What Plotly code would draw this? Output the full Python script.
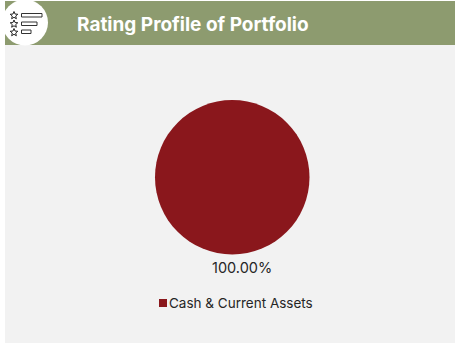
import math
import plotly.graph_objects as go

categories = ["Cash & Current Assets"]
values = [100.0]
colors = ["#8a171c"]
title = "Rating Profile of Portfolio"
W, H = 455, 343
INK = "#262626"
FONT = "Inter"

def px(x): return x / W
def py(y): return 1 - y / H

fig = go.Figure(go.Pie(
    labels=categories, values=values,
    marker=dict(colors=colors, line=dict(width=0)),
    textinfo="none",
    sort=False, hoverinfo="label+percent",
    domain=dict(x=[px(155), px(309.5)], y=[py(254.5), py(100)]),
    showlegend=False,
))

def star(cx, cy, r=4.0):
    pts = []
    for i in range(10):
        a = -math.pi / 2 + i * math.pi / 5
        rr = r if i % 2 == 0 else r * 0.45
        pts.append((px(cx + rr * math.cos(a)), py(cy + rr * math.sin(a))))
    return "M " + " L ".join(f"{x:.5f},{y:.5f}" for x, y in pts) + " Z"

shapes = [
    dict(type="rect", xref="paper", yref="paper", x0=px(5), x1=1, y0=0, y1=py(45),
         fillcolor="#f2f2f2", line_width=0, layer="below"),
    dict(type="rect", xref="paper", yref="paper", x0=px(5), x1=1, y0=py(45), y1=py(1),
         fillcolor="#8d9b6f", line_width=0, layer="below"),
    dict(type="circle", xref="paper", yref="paper", x0=px(2), x1=px(48), y0=py(45.5), y1=py(-0.5),
         fillcolor="#ffffff", line_width=0, layer="below"),
    # legend swatch
    dict(type="rect", xref="paper", yref="paper", x0=px(159), x1=px(167), y0=py(307), y1=py(299),
         fillcolor=colors[0], line_width=0),
]
for y0, y1, x1 in [(13.5, 17, 42), (22, 25.5, 37), (30, 33.5, 31)]:
    shapes.append(dict(type="rect", xref="paper", yref="paper", x0=px(21.5), x1=px(x1),
                       y0=py(y1), y1=py(y0), fillcolor="#ffffff",
                       line=dict(color="#333333", width=1)))
for y in [15.5, 24, 32.5]:
    shapes.append(dict(type="path", xref="paper", yref="paper", path=star(14, y),
                       fillcolor="#ffffff", line=dict(color="#222222", width=1)))

annotations = [
    dict(text=title, xref="paper", yref="paper", x=px(74.5), y=py(24), xanchor="left", yanchor="middle",
         showarrow=False, font=dict(family=FONT, size=19, color="#ffffff", weight=700)),
    dict(text=f"{values[0]:.2f}%", xref="paper", yref="paper", x=px(241.5), y=py(267), xanchor="center",
         yanchor="middle", showarrow=False, font=dict(family=FONT, size=14.5, color=INK)),
    dict(text=categories[0], xref="paper", yref="paper", x=px(167), y=py(303), xanchor="left",
         yanchor="middle", showarrow=False, font=dict(family=FONT, size=13.5, color=INK)),
]

fig.update_layout(
    width=W, height=H, margin=dict(l=0, r=0, t=0, b=0),
    paper_bgcolor="#ffffff", plot_bgcolor="#ffffff",
    shapes=shapes, annotations=annotations,
)
fig.write_html("out.html", config=dict(displayModeBar=False),
               post_script="document.body.style.margin='0';document.body.style.overflow='hidden';")
